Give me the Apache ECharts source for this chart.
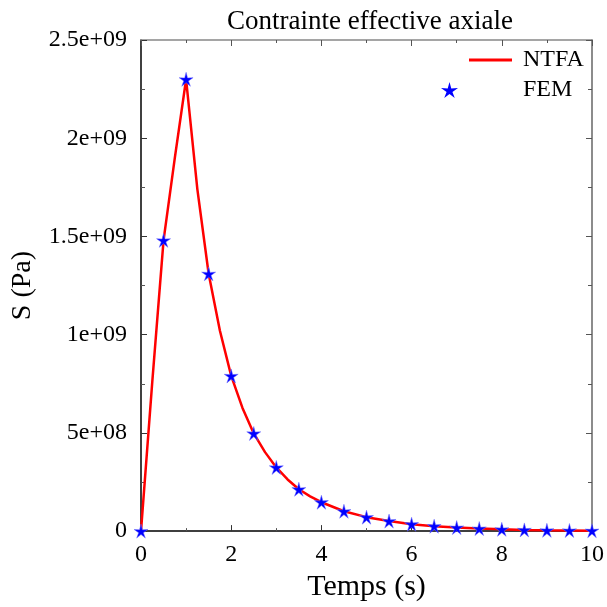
<!DOCTYPE html>
<html>
<head>
<meta charset="utf-8">
<script src="https://cdn.jsdelivr.net/npm/echarts@6/dist/echarts.min.js"></script>
<style>html,body{margin:0;padding:0;background:#fff}#c{width:607px;height:607px}</style>
</head>
<body>
<div id="c"></div>
<script>
// FEM reference points (time s, stress Pa)
var femT = [0, 0.5, 1, 1.5, 2, 2.5, 3, 3.5, 4, 4.5, 5, 5.5, 6, 6.5, 7, 7.5, 8, 8.5, 9, 9.5, 10];
var femS = [0, 1.48e9, 2.30e9, 1.31e9, 7.9e8, 4.97e8, 3.24e8, 2.13e8, 1.47e8, 1.01e8, 7.1e7, 5.1e7, 3.5e7, 2.5e7, 1.8e7, 1.3e7, 9e6, 6e6, 4e6, 3e6, 2e6];
// NTFA curve (time s, stress Pa)
var ntfaT = [0, 0.25, 0.5, 0.75, 1, 1.25, 1.5, 1.75, 2, 2.25, 2.5, 2.75, 3, 3.25, 3.5, 3.75, 4, 4.5, 5, 5.5, 6, 6.5, 7, 7.5, 8, 8.5, 9, 9.5, 10];
var ntfaS = [0, 7.6e8, 1.48e9, 1.90e9, 2.30e9, 1.74e9, 1.31e9, 1.02e9, 7.9e8, 6.27e8, 4.97e8, 4.02e8, 3.24e8, 2.63e8, 2.13e8, 1.77e8, 1.47e8, 1.01e8, 7.1e7, 5.1e7, 3.5e7, 2.5e7, 1.8e7, 1.3e7, 9e6, 6e6, 4e6, 3e6, 2e6];
// tick labels
var yTickLabels = ['0', '5e+08', '1e+09', '1.5e+09', '2e+09', '2.5e+09'];
var xTickLabels = ['0', '2', '4', '6', '8', '10'];

var STAR = 'path://M7,0 L8.4,5.1 L13.657,4.837 L9.3,7.8 L11.114,12.663 L7,9.4 L2.886,12.663 L4.7,7.8 L0.343,4.837 L5.6,5.1 Z';

var FONT = 'Liberation Serif';
var chart = echarts.init(document.getElementById('c'), null, {renderer: 'canvas'});
var zip = function (a, b) { return a.map(function (v, i) { return [v, b[i]]; }); };

var xBase = {
  type: 'value', min: 0, max: 10, interval: 2,
  minorTick: {show: true, splitNumber: 2, length: 3, lineStyle: {color: '#555'}},
  splitLine: {show: false}, minorSplitLine: {show: false}
};
var yBase = {
  type: 'value', min: 0, max: 2.5e9, interval: 5e8,
  minorTick: {show: true, splitNumber: 2, length: 4, lineStyle: {color: '#555'}},
  splitLine: {show: false}, minorSplitLine: {show: false}
};

chart.setOption({
  backgroundColor: '#fff',
  animation: false,
  title: {
    text: 'Contrainte effective axiale',
    left: 365, top: 3, textAlign: 'center',
    textStyle: {fontFamily: FONT, fontSize: 27, fontWeight: 'normal', color: '#000'}
  },
  grid: {left: 141, right: 9, top: 40, bottom: 74, containLabel: false},
  legend: [
    {
      data: [{name: 'NTFA', icon: 'path://M0,0 L43,0 L43,3 L0,3 Z', itemStyle: {color: '#ff0000'}}],
      left: 469, top: 48, padding: 0,
      itemWidth: 43, itemHeight: 3,
      textStyle: {fontFamily: FONT, fontSize: 24, color: '#000', padding: [0, 0, 0, 6]}
    },
    {
      data: [{name: 'FEM', icon: STAR, itemStyle: {color: '#0000ff', borderWidth: 0, opacity: 1}}],
      left: 441, top: 78, padding: 0,
      itemWidth: 17, itemHeight: 17,
      textStyle: {fontFamily: FONT, fontSize: 24, color: '#000', padding: [0, 0, 0, 60]}
    }
  ],
  xAxis: [
    Object.assign({}, xBase, {
      position: 'bottom',
      name: 'Temps (s)', nameLocation: 'middle', nameGap: 38,
      nameTextStyle: {fontFamily: FONT, fontSize: 30, color: '#000'},
      axisLine: {show: true, onZero: false, lineStyle: {color: '#000', width: 1.5}},
      axisTick: {show: true, inside: true, length: 6, lineStyle: {color: '#333'}},
      axisLabel: {
        fontFamily: FONT, fontSize: 24, color: '#000', margin: 12,
        formatter: function (v) { return xTickLabels[Math.round(v / 2)]; }
      }
    }),
    Object.assign({}, xBase, {
      position: 'top',
      axisLine: {show: true, onZero: false, lineStyle: {color: '#888', width: 1.5}},
      axisTick: {show: true, inside: true, length: 6, lineStyle: {color: '#555'}},
      axisLabel: {show: false}
    })
  ],
  yAxis: [
    Object.assign({}, yBase, {
      position: 'left',
      name: 'S (Pa)', nameLocation: 'middle', nameGap: 104, nameRotate: 90,
      nameTextStyle: {fontFamily: FONT, fontSize: 28, color: '#000'},
      axisLine: {show: true, onZero: false, lineStyle: {color: '#000', width: 1.5}},
      axisTick: {show: true, inside: true, length: 6, lineStyle: {color: '#333'}},
      axisLabel: {
        fontFamily: FONT, fontSize: 24, color: '#000', margin: 14,
        formatter: function (v) { return yTickLabels[Math.round(v / 5e8)]; }
      }
    }),
    Object.assign({}, yBase, {
      position: 'right',
      axisLine: {show: true, onZero: false, lineStyle: {color: '#666', width: 1.5}},
      axisTick: {show: true, inside: true, length: 6, lineStyle: {color: '#555'}},
      axisLabel: {show: false}
    })
  ],
  series: [
    {
      name: 'NTFA', type: 'line', xAxisIndex: 0, yAxisIndex: 0,
      data: zip(ntfaT, ntfaS), showSymbol: false, smooth: false,
      lineStyle: {color: '#ff0000', width: 2.5}, itemStyle: {color: '#ff0000'},
      z: 2
    },
    {
      name: 'FEM', type: 'scatter', xAxisIndex: 0, yAxisIndex: 0,
      data: zip(femT, femS), symbol: STAR, symbolSize: 14,
      itemStyle: {color: '#0000ff', borderColor: '#7070ff', borderWidth: 0.5, opacity: 1},
      z: 3
    }
  ]
});
</script>
</body>
</html>
